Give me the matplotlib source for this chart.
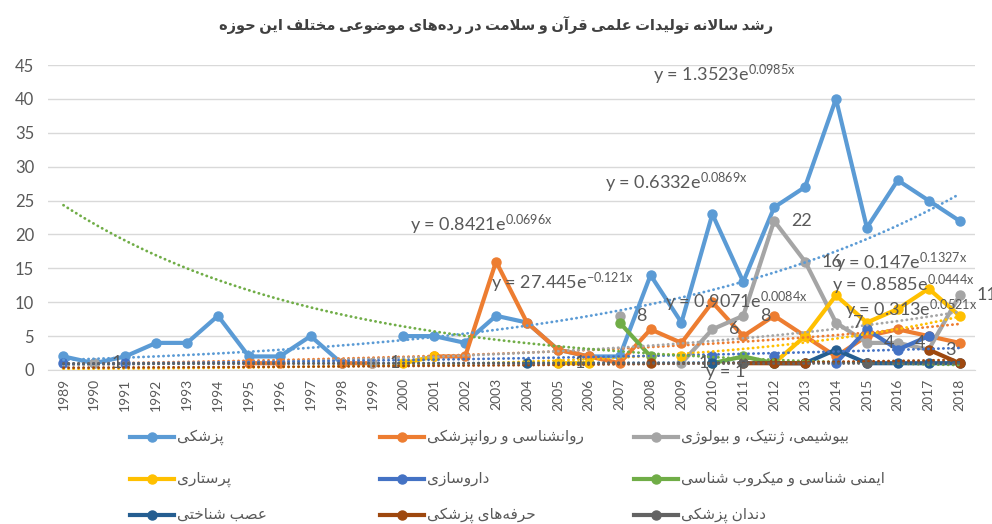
import numpy as np
import matplotlib.pyplot as plt
from matplotlib.lines import Line2D

plt.rcParams['font.family'] = ['Lato', 'DejaVu Sans']
plt.rcParams['mathtext.fontset'] = 'custom'
plt.rcParams['mathtext.rm'] = 'Lato'
plt.rcParams['mathtext.it'] = 'Lato:italic'
plt.rcParams['mathtext.bf'] = 'Lato:bold'

n = np.nan
years = list(range(1989, 2019))

# one list per subject, 1989..2018 (nan = no value)
medicine = [2, 1, 2, 4, 4, 8, 2, 2, 5, 1, n, 5, 5, 4, 8, 7, 3, 2, 2, 14, 7, 23, 13, 24, 27, 40, 21, 28, 25, 22]
psychology = [n, n, n, n, n, n, 1, 1, n, 1, 1, n, 2, 2, 16, 7, 3, 2, 1, 6, 4, 10, 5, 8, 5, 2, 5, 6, 5, 4]
biochem = [n, 1, n, n, n, n, n, n, n, n, 1, n, n, n, n, n, 1, n, 8, n, 1, 6, 8, 22, 16, 7, 4, 4, 3, 11]
nursing = [n, n, n, n, n, n, n, n, n, n, n, 1, 2, n, n, n, 1, 1, n, n, 2, n, n, 1, 5, 11, 7, 9, 12, 8]
pharmacy = [1, n, 1, n, n, n, n, n, n, n, n, n, n, n, n, n, n, n, n, n, n, 2, n, 2, n, 1, 6, 3, 5, n]
immunology = [n, n, n, n, n, n, n, n, n, n, n, n, n, n, n, n, n, n, 7, 2, n, 1, 2, 1, n, n, n, n, n, n]
neuro = [n, n, n, n, n, n, n, n, n, n, n, n, n, n, n, 1, n, n, n, n, n, 1, n, 1, 1, 3, 1, 1, 1, 1]
professions = [n, n, n, n, n, n, n, n, n, n, n, n, n, n, n, n, n, n, n, 1, n, n, 1, 1, 1, n, n, n, 3, 1]
dentistry = [n, n, n, n, n, n, n, n, n, n, n, n, n, n, n, n, n, n, n, n, n, n, 1, n, n, n, 1, n, n, n]

labels = ['پزشکی', 'روانشناسی و روانپزشکی', 'بیوشیمی، ژنتیک، و بیولوژی',
          'پرستاری', 'داروسازی', 'ایمنی شناسی و میکروب شناسی',
          'عصب شناختی', 'حرفه\u200cهای پزشکی', 'دندان پزشکی']
series = [medicine, psychology, biochem, nursing, pharmacy, immunology, neuro, professions, dentistry]
colors = ['#5B9BD5', '#ED7D31', '#A5A5A5', '#FFC000', '#4472C4', '#70AD47', '#255E91', '#9E480E', '#636363']

# exponential trendlines y = a*e^(b*x) as printed on the chart
trend_a = [1.3523, 0.8421, 0.6332, 0.147, 0.8585, 27.445, 0.9071, 0.313, 1]
trend_b = [0.0985, 0.0696, 0.0869, 0.1327, 0.0444, -0.121, 0.0084, 0.0521, 0]
eq_pos = [(19.08, 43.5), (11.22, 21.4), (17.52, 27.6), (24.96, 15.8), (24.86, 12.5),
          (13.85, 12.8), (19.46, 10.0), (25.28, 8.85), (20.8, -0.3)]

title = 'رشد سالانه تولیدات علمی قرآن و سلامت در رده\u200cهای موضوعی مختلف این حوزه'

# minimal arabic/persian shaping: (isolated, final[, initial, medial])
FORMS = {
    'ا': (0xFE8D, 0xFE8E), 'آ': (0xFE81, 0xFE82), 'د': (0xFEA9, 0xFEAA), 'ذ': (0xFEAB, 0xFEAC),
    'ر': (0xFEAD, 0xFEAE), 'ز': (0xFEAF, 0xFEB0), 'ژ': (0xFB8A, 0xFB8B), 'و': (0xFEED, 0xFEEE),
    'ب': (0xFE8F, 0xFE90, 0xFE91, 0xFE92), 'پ': (0xFB56, 0xFB57, 0xFB58, 0xFB59),
    'ت': (0xFE95, 0xFE96, 0xFE97, 0xFE98), 'ح': (0xFEA1, 0xFEA2, 0xFEA3, 0xFEA4),
    'خ': (0xFEA5, 0xFEA6, 0xFEA7, 0xFEA8), 'س': (0xFEB1, 0xFEB2, 0xFEB3, 0xFEB4),
    'ش': (0xFEB5, 0xFEB6, 0xFEB7, 0xFEB8), 'ص': (0xFEB9, 0xFEBA, 0xFEBB, 0xFEBC),
    'ض': (0xFEBD, 0xFEBE, 0xFEBF, 0xFEC0), 'ع': (0xFEC9, 0xFECA, 0xFECB, 0xFECC),
    'ف': (0xFED1, 0xFED2, 0xFED3, 0xFED4), 'ق': (0xFED5, 0xFED6, 0xFED7, 0xFED8),
    'ک': (0xFB8E, 0xFB8F, 0xFB90, 0xFB91), 'ك': (0xFED9, 0xFEDA, 0xFEDB, 0xFEDC),
    'ل': (0xFEDD, 0xFEDE, 0xFEDF, 0xFEE0), 'م': (0xFEE1, 0xFEE2, 0xFEE3, 0xFEE4),
    'ن': (0xFEE5, 0xFEE6, 0xFEE7, 0xFEE8), 'ه': (0xFEE9, 0xFEEA, 0xFEEB, 0xFEEC),
    'ی': (0xFBFC, 0xFBFD, 0xFBFE, 0xFBFF), 'ي': (0xFEF1, 0xFEF2, 0xFEF3, 0xFEF4),
}
LAM_ALEF = {'ا': (0xFEFB, 0xFEFC), 'آ': (0xFEF5, 0xFEF6)}


def fa(s):
    out = []
    i = 0
    while i < len(s):
        c = s[i]
        prev = s[i - 1] if i > 0 else ''
        nxt = s[i + 1] if i + 1 < len(s) else ''
        if c not in FORMS:
            if c != '\u200c':
                out.append(c)
            i += 1
            continue
        p = prev in FORMS and len(FORMS[prev]) == 4
        if c == 'ل' and nxt in LAM_ALEF:
            out.append(chr(LAM_ALEF[nxt][1 if p else 0]))
            i += 2
            continue
        f = FORMS[c]
        q = len(f) == 4 and nxt in FORMS
        k = 3 if (p and q) else 1 if p else 2 if q else 0
        out.append(chr(f[k]))
        i += 1
    return ''.join(out[::-1])


fig = plt.figure(figsize=(9.92, 5.24), dpi=100)
ax = fig.add_axes([48 / 992, 1 - 370 / 524, 927 / 992, 305 / 524])
x = np.arange(len(years))

for data, c in zip(series, colors):
    ax.plot(x, data, color=c, lw=3, marker='o', ms=6.5, zorder=3)

xt = np.linspace(1, 30, 300)
for a, b, c, pos in zip(trend_a, trend_b, colors, eq_pos):
    ax.plot(xt - 1, a * np.exp(b * xt), color=c, lw=2, ls=(0, (0.1, 1.7)),
            dash_capstyle='round', zorder=4)
    if b == 0:
        eq = f'y = {a}'
    else:
        eq = f'y = {a}e$^{{\\mathrm{{{b}x}}}}$'
    ax.text(pos[0], pos[1], eq, fontsize=13, color='#595959', va='center', ha='left',
            zorder=5, clip_on=False)

# data labels of the biochemistry series
for xi, v in zip(x, biochem):
    if not np.isnan(v):
        ax.annotate(f'{v:g}', (xi, v), xytext=(12, 0), textcoords='offset points',
                    fontsize=13, color='#595959', va='center', ha='left', zorder=5)

ax.set_xlim(-0.5, len(years) - 0.5)
ax.set_ylim(0, 45)
ax.set_yticks(np.arange(0, 46, 5))
ax.set_xticks(x)
ax.set_xticklabels([str(y) for y in years], rotation=90)
ax.tick_params(axis='both', length=0, colors='#595959')
ax.tick_params(axis='y', labelsize=12, pad=10)
ax.tick_params(axis='x', labelsize=10, pad=6)
ax.grid(axis='y', color='#D9D9D9', lw=1)
ax.set_axisbelow(True)
for s in ['top', 'right', 'left']:
    ax.spines[s].set_visible(False)
ax.spines['bottom'].set_color('#D9D9D9')

fig.text(0.5, 1 - 25 / 524, fa(title), ha='center', va='center', fontsize=10.5,
         fontweight='bold', color='#404040')

# legend, three columns by three rows
col_x = [130, 380, 634]
row_y = [437, 479, 515]
for i, (lab, c) in enumerate(zip(labels, colors)):
    x0 = col_x[i % 3]
    y0 = 1 - row_y[i // 3] / 524
    fig.add_artist(Line2D([x0 / 992, (x0 + 44) / 992], [y0, y0], color=c, lw=3))
    fig.add_artist(Line2D([(x0 + 22) / 992], [y0], color=c, marker='o', ms=6.5))
    fig.text((x0 + 47) / 992, y0, fa(lab), ha='left', va='center', fontsize=11, color='#595959')

fig.savefig('out.png', dpi=100)
